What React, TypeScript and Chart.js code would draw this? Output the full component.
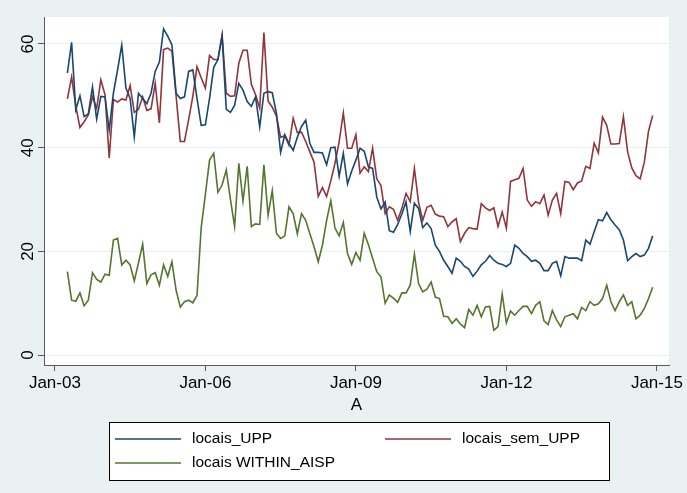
import React, { useEffect, useRef } from "react";
import { Chart, registerables } from "chart.js";

Chart.register(...registerables);

// months counted from Jan 2003 (0 = Jan-03); the series start in Apr 2003
const FIRST_MONTH = 3;

const locaisUPP = [
  54.4, 60.3, 47.3, 50, 46, 46.5, 51.7, 45.5, 49.9, 49.8, 43.4, 50.5, 55, 59.8, 51.5, 49.5, 42.1,
  50.5, 49.5, 48.5, 50.5, 54.7, 56.5, 62.9, 61.5, 59.8, 50.5, 49.5, 49.8, 54.7, 55, 49.5, 44.3,
  44.4, 49.5, 55.5, 57, 61.5, 47.4, 46.8, 48.2, 52.4, 51.1, 48.9, 48, 49.8, 44, 50.5, 50.8, 50.6,
  46.6, 39.1, 42.5, 40.8, 39.5, 42, 44.1, 45.3, 40.8, 39.1, 39.1, 39, 36.7, 40, 40.1, 34.5, 38.9,
  33, 35.5, 37.6, 39.9, 39.3, 36.3, 36, 30.5, 28.2, 29.5, 24, 23.7, 25.2, 27.2, 29.6, 23.8, 29.3,
  28.3, 24.6, 25.5, 24.4, 21.2, 20, 18.3, 17.1, 15.8, 18.7, 18.1, 17.1, 16.6, 15.2, 16.2, 17.4,
  18.1, 19.2, 18.3, 17.7, 17.5, 17.1, 17.7, 21.2, 20.6, 19.6, 19, 18.1, 18.3, 17.7, 16.3, 16.3,
  17.7, 18.1, 15.3, 19, 18.7, 18.7, 18.7, 18.2, 22.2, 21.4, 23.8, 26.1, 25.9, 27.5, 26.1, 25.1,
  24.2, 22.2, 18.2, 19, 19.6, 19, 19.3, 20.6, 23,
];

const locaisSemUPP = [
  49.4, 53.6, 48, 43.9, 45, 46.3, 49.8, 47.6, 53.1, 50.2, 38, 49.3, 48.8, 49.4, 49.2, 52, 46.8,
  47.4, 49.8, 47.2, 47.5, 52.4, 44.8, 58.9, 59.2, 58.6, 50, 41.2, 41.2, 45.4, 49.9, 55.6, 53.5,
  51.5, 57.8, 57, 57, 61.8, 50.5, 49.9, 50, 56.3, 58.8, 58.8, 52.2, 50.2, 47.6, 62.2, 49, 47.8,
  46.1, 42, 42.3, 40.5, 45.7, 42.9, 43, 41.2, 39.2, 37.2, 30.6, 32.3, 30.6, 33.6, 37, 41.1, 46.7,
  39.9, 39.9, 42.5, 35.1, 36.3, 35.4, 39.9, 34, 32.7, 27.3, 28.6, 28.1, 26, 28.3, 31.2, 29.6, 36,
  29.4, 26, 28.5, 28.9, 27.2, 26.8, 26.7, 24.8, 25.7, 26.3, 21.9, 23.5, 24.6, 24.4, 24.3, 29.2,
  28.4, 27.9, 28.4, 24.8, 27.6, 24.5, 33.5, 33.8, 34.1, 36, 29.9, 28.7, 29.6, 29.2, 30.9, 27, 29.9,
  31.2, 27.3, 33.5, 33.3, 31.9, 33.2, 33.6, 36.4, 36, 40.9, 39, 45.9, 44.3, 40.7, 40.7, 40.8, 46,
  39.2, 36.1, 34.6, 34, 37.2, 43.2, 46.2,
];

const locaisWithinAISP = [
  16.1, 10.6, 10.4, 12, 9.5, 10.6, 15.9, 14.6, 14.1, 15.6, 15.4, 22.2, 22.5, 17.4, 18.3, 17.4,
  14.3, 17.8, 21.4, 13.8, 15.5, 15.9, 13.5, 17.4, 15.2, 18, 12.5, 9.3, 10.3, 10.6, 10.1, 11.5,
  24.6, 31, 37.6, 38.9, 31.4, 32.8, 35.7, 30, 24.8, 37, 29.7, 36.4, 24.8, 25.3, 25.2, 36.7, 27,
  31.7, 23.5, 22.5, 23, 28.6, 27.3, 23.4, 27.3, 26, 23.4, 20.9, 18, 21.2, 26, 29.8, 24.5, 23,
  25.6, 19.6, 17.5, 19.8, 18.3, 23.5, 21.3, 18.7, 16.1, 15.1, 10, 11.6, 11, 10.2, 12, 12, 13.5,
  19.5, 13.8, 12.2, 12.7, 14.1, 11.2, 10.9, 7.5, 7.4, 6.1, 7, 6, 5.3, 8.8, 7.7, 9.6, 7.4, 9.3,
  9.4, 4.8, 5.5, 11.8, 6.2, 8.5, 7.7, 8.6, 9.4, 9.4, 8, 9.6, 10.3, 6.6, 5.9, 8.6, 6.8, 5.5, 7.4,
  7.7, 8, 7, 9.2, 8.6, 10.3, 9.6, 9.9, 10.9, 13.5, 10.3, 8.6, 10.3, 11.6, 9.6, 10.3, 7, 7.7, 9,
  10.9, 13.1,
];

const seriesNames = ["locais_UPP", "locais_sem_UPP", "locais WITHIN_AISP"];
const seriesColors = ["#1a476f", "#90353b", "#55752f"];
const xTickValues = [0, 36, 72, 108, 144];
const xTickLabels = ["Jan-03", "Jan-06", "Jan-09", "Jan-12", "Jan-15"];
const yTickValues = [0, 20, 40, 60];
const xTitle = "A";

const BG = "#eaf1f3";
const GRID = "#e6eef0";
const AXIS = "#5a5a5a";
const FONT = "'Liberation Sans', Arial, sans-serif";

const toPoints = (arr: number[]) => arr.map((v, i) => ({ x: FIRST_MONTH + i, y: v }));

const stataPlugin = {
  id: "stataLook",
  beforeDraw(chart: any) {
    const { ctx, chartArea: a, width, height } = chart;
    ctx.save();
    ctx.fillStyle = BG;
    ctx.fillRect(0, 0, width, height);
    ctx.fillStyle = "#ffffff";
    ctx.fillRect(a.left, a.top, a.right - a.left, a.bottom - a.top);
    ctx.restore();
  },
  afterDraw(chart: any) {
    const { ctx } = chart;
    const box = { x: 109, y: 422, w: 500, h: 58 };
    ctx.save();
    ctx.fillStyle = "#ffffff";
    ctx.fillRect(box.x, box.y, box.w, box.h);
    ctx.strokeStyle = "#000000";
    ctx.lineWidth = 1;
    ctx.strokeRect(box.x + 0.5, box.y + 0.5, box.w, box.h);
    const cols = [115, 385];
    const rows = [439, 463];
    ctx.font = `15.5px ${FONT}`;
    ctx.textBaseline = "middle";
    ctx.textAlign = "left";
    chart.data.datasets.forEach((ds: any, i: number) => {
      const cx = cols[i % 2];
      const cy = rows[Math.floor(i / 2)];
      ctx.strokeStyle = ds.borderColor;
      ctx.lineWidth = 1.5;
      ctx.beginPath();
      ctx.moveTo(cx, cy);
      ctx.lineTo(cx + 66, cy);
      ctx.stroke();
      ctx.fillStyle = "#000000";
      ctx.fillText(ds.label, cx + 77, cy);
    });
    ctx.restore();
  },
};

export default function App() {
  const ref = useRef<HTMLCanvasElement | null>(null);

  useEffect(() => {
    if (!ref.current) return;
    const seriesData = [locaisUPP, locaisSemUPP, locaisWithinAISP];
    const chart = new Chart(ref.current, {
      type: "line",
      data: {
        datasets: seriesData.map((arr, i) => ({
          label: seriesNames[i],
          data: toPoints(arr),
          borderColor: seriesColors[i],
          backgroundColor: seriesColors[i],
          borderWidth: 1.6,
          pointRadius: 0,
          tension: 0,
          fill: false,
        })),
      },
      options: {
        animation: false,
        responsive: false,
        maintainAspectRatio: false,
        layout: { padding: { left: 0, top: 17, right: 18, bottom: 75 } },
        plugins: { legend: { display: false }, tooltip: { enabled: false } },
        scales: {
          x: {
            type: "linear",
            min: -2.6,
            max: 146.9,
            afterBuildTicks: (s: any) => {
              s.ticks = xTickValues.map((v) => ({ value: v }));
            },
            afterFit: (s: any) => {
              s.height = 53;
            },
            ticks: {
              autoSkip: false,
              maxRotation: 0,
              minRotation: 0,
              padding: 2,
              color: "#000",
              font: { family: FONT, size: 17 },
              callback: (v: any) => {
                const k = xTickValues.indexOf(Number(v));
                return k >= 0 ? xTickLabels[k] : "";
              },
            },
            grid: { display: true, drawOnChartArea: false, drawTicks: true, tickLength: 6, tickColor: AXIS },
            border: { display: true, color: AXIS, width: 1 },
            title: {
              display: true,
              text: xTitle,
              color: "#000",
              font: { family: FONT, size: 17 },
              padding: { top: 0, bottom: 2 },
            },
          },
          y: {
            type: "linear",
            min: -1.9,
            max: 65.2,
            afterBuildTicks: (s: any) => {
              s.ticks = yTickValues.map((v) => ({ value: v }));
            },
            afterFit: (s: any) => {
              s.width = 44;
            },
            ticks: {
              minRotation: 90,
              maxRotation: 90,
              crossAlign: "center",
              padding: 0,
              color: "#000",
              font: { family: FONT, size: 17 },
            },
            grid: { color: GRID, lineWidth: 1, drawTicks: true, tickLength: 6, tickColor: AXIS },
            border: { display: true, color: AXIS, width: 1 },
          },
        },
      },
      plugins: [stataPlugin],
    } as any);
    return () => chart.destroy();
  }, []);

  return (
    <div style={{ position: "fixed", left: 0, top: 0, width: 687, height: 493, background: BG }}>
      <canvas ref={ref} width={687} height={493} style={{ display: "block", width: 687, height: 493 }} />
    </div>
  );
}
